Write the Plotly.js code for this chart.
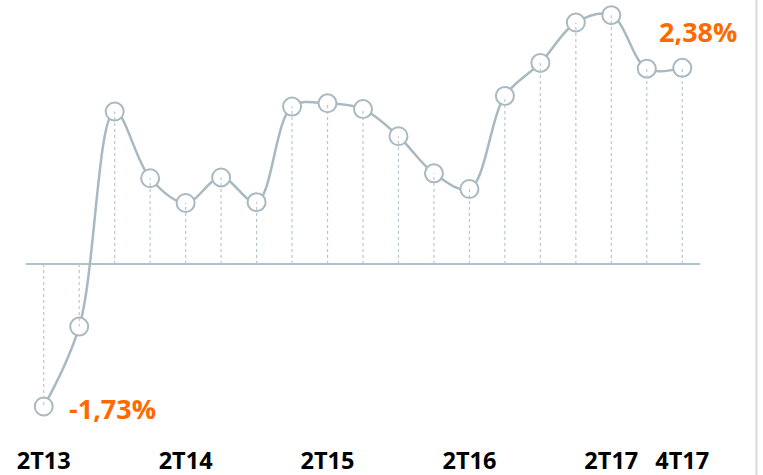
<!DOCTYPE html>
<html>
<head>
<meta charset="utf-8">
<script src="https://cdn.plot.ly/plotly-3.0.1.min.js"></script>
<style>html,body{margin:0;padding:0;background:#fff;}#chart{width:763px;height:475px;}</style>
</head>
<body>
<div id="chart"></div>
<script>
// Quarters (2T13 .. 4T17)
const quarters = ["2T13","3T13","4T13","1T14","2T14","3T14","4T14","1T15","2T15","3T15","4T15","1T16","2T16","3T16","4T16","1T17","2T17","3T17","4T17"];
// Values (%)
const values = [-1.73,-0.76,1.85,1.04,0.74,1.05,0.75,1.91,1.95,1.88,1.55,1.10,0.91,2.04,2.44,2.93,3.02,2.37,2.38];
// Tick labels shown
const tickLabels = ["2T13","2T14","2T15","2T16","2T17","4T17"];

const idx = quarters.map((q,i)=>i);
const tickVals = tickLabels.map(t => quarters.indexOf(t));

// dotted drop lines from zero to each point
const dropX = [], dropY = [];
idx.forEach(i => { dropX.push(i, i, null); dropY.push(0, values[i], null); });

const lineColor = "#a9b9c1";
const orange = "#ff6a00";
const fmt = v => v.toFixed(2).replace(".", ",") + "%";

const traces = [
  {x: idx, y: values, mode: "lines+markers", line: {color: lineColor, width: 2.5, shape: "spline", smoothing: 1},
   marker: {size: 18, color: "#ffffff", line: {color: lineColor, width: 2}}, showlegend: false, cliponaxis: false},
  {x: dropX, y: dropY, mode: "lines", line: {color: "#b9c6cc", width: 1.2, dash: "dot"}, hoverinfo: "skip", showlegend: false}
];

const last = values.length - 1;
const layout = {
  width: 763, height: 475,
  margin: {l: 26, r: 63, t: 5, b: 45},
  paper_bgcolor: "#ffffff", plot_bgcolor: "#ffffff",
  font: {family: "Open Sans, sans-serif"},
  xaxis: {range: [-0.5, 18.5], showgrid: false, zeroline: false, showline: false, ticks: "",
          tickmode: "array", tickvals: tickVals, ticktext: tickLabels,
          tickfont: {family: "Open Sans", size: 23.5, color: "#000000", weight: "bold"}, ticklabelstandoff: 14},
  yaxis: {range: [-2.015, 3.143], showgrid: false, showticklabels: false, ticks: "", showline: false,
          zeroline: true, zerolinecolor: "#b3c1c8", zerolinewidth: 2},
  annotations: [
    {x: 0, y: values[0], xref: "x", yref: "y", text: "<b>" + fmt(values[0]) + "</b>", showarrow: false,
     xanchor: "left", yanchor: "middle", xshift: 23, yshift: -2, font: {family: "Open Sans", size: 27, color: orange}},
    {x: last, y: values[last], xref: "x", yref: "y", text: "<b>" + fmt(values[last]) + "</b>", showarrow: false,
     xanchor: "center", yanchor: "middle", xshift: 16, yshift: 36, font: {family: "Open Sans", size: 27, color: orange}}
  ],
  shapes: [
    {type: "line", xref: "paper", yref: "paper", x0: 1.0837, x1: 1.0837, y0: -0.2, y1: 1.02, line: {color: "#d9d9d9", width: 2}}
  ]
};

Plotly.newPlot("chart", traces, layout, {staticPlot: true, displayModeBar: false});
</script>
</body>
</html>
